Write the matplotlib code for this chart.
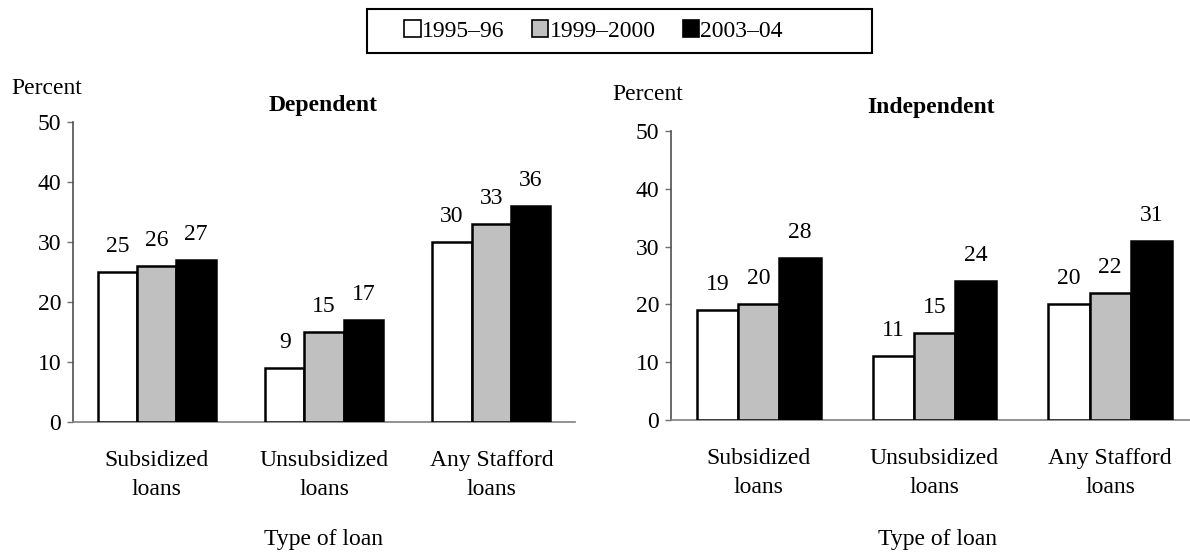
import numpy as np
import matplotlib
matplotlib.use("Agg")
import matplotlib.pyplot as plt
from matplotlib.patches import Patch, Rectangle

plt.rcParams['font.family'] = ['Liberation Serif', 'DejaVu Serif']
plt.rcParams['font.size'] = 17

years = ['1995–96', '1999–2000', '2003–04']
loan_types = ['Subsidized\nloans', 'Unsubsidized\nloans', 'Any Stafford\nloans']
dependent = [[25, 9, 30], [26, 15, 33], [27, 17, 36]]
independent = [[19, 11, 20], [20, 15, 22], [28, 24, 31]]
colors = ['white', '#C0C0C0', 'black']

W, H = 1190, 552
fig = plt.figure(figsize=(W / 100, H / 100), dpi=100)


def px_axes(x0, x1, y0, y1):
    # pixel box (top-left origin) -> figure axes
    return fig.add_axes([x0 / W, (H - y1) / H, (x1 - x0) / W, (y1 - y0) / H])


def draw(ax, data):
    x = np.arange(len(loan_types))
    w = 0.235
    for i, vals in enumerate(data):
        bars = ax.bar(x + (i - 1) * w, vals, w, color=colors[i],
                      edgecolor='black', linewidth=1.8, zorder=3)
        for b, v in zip(bars, vals):
            ax.annotate(str(v), (b.get_x() + b.get_width() / 2, v),
                        xytext=(0, 18.5), textcoords='offset points',
                        ha='center', va='center', fontsize=17)
    ax.set_xlim(-0.5, 2.5)
    ax.set_ylim(0, 50)
    ax.set_yticks(range(0, 51, 10))
    ax.set_xticks(x, loan_types, linespacing=1.5)
    ax.tick_params(axis='x', length=0, pad=20)
    ax.tick_params(axis='y', length=4.5, width=1, color='#707070', pad=4)
    for s in ['top', 'right']:
        ax.spines[s].set_visible(False)
    ax.spines['left'].set_color('#505050')
    ax.spines['bottom'].set_color('#808080')
    ax.spines['left'].set_linewidth(1.2)
    ax.spines['bottom'].set_linewidth(1.2)


ax1 = px_axes(73, 575, 122, 422)
draw(ax1, dependent)
ax2 = px_axes(671, 1198, 131, 420)
draw(ax2, independent)

fig.text(11 / W, 1 - 89 / H, 'Percent', ha='left', va='center')
fig.text(612 / W, 1 - 95 / H, 'Percent', ha='left', va='center')
fig.text(323 / W, 1 - 106 / H, 'Dependent', ha='center', va='center', fontweight='bold')
fig.text(931 / W, 1 - 108 / H, 'Independent', ha='center', va='center', fontweight='bold')
fig.text(324 / W, 1 - 539 / H, 'Type of loan', ha='center', va='center')
fig.text(937 / W, 1 - 539 / H, 'Type of loan', ha='center', va='center')

# legend with a hand-drawn frame
handles = [Patch(facecolor=c, edgecolor='black', linewidth=1.2) for c in colors]
fig.legend(handles, years, loc='center left', bbox_to_anchor=(395 / W, 1 - 31 / H),
           ncol=3, frameon=False, handlelength=0.7, handleheight=0.7,
           handletextpad=0.05, columnspacing=1.15, fontsize=17, borderaxespad=0)
fig.patches.append(Rectangle((367 / W, 1 - 53 / H), (872 - 367) / W, 44 / H,
                             transform=fig.transFigure, fill=False,
                             edgecolor='black', linewidth=1.5))

fig.savefig('out.png', dpi=100)
